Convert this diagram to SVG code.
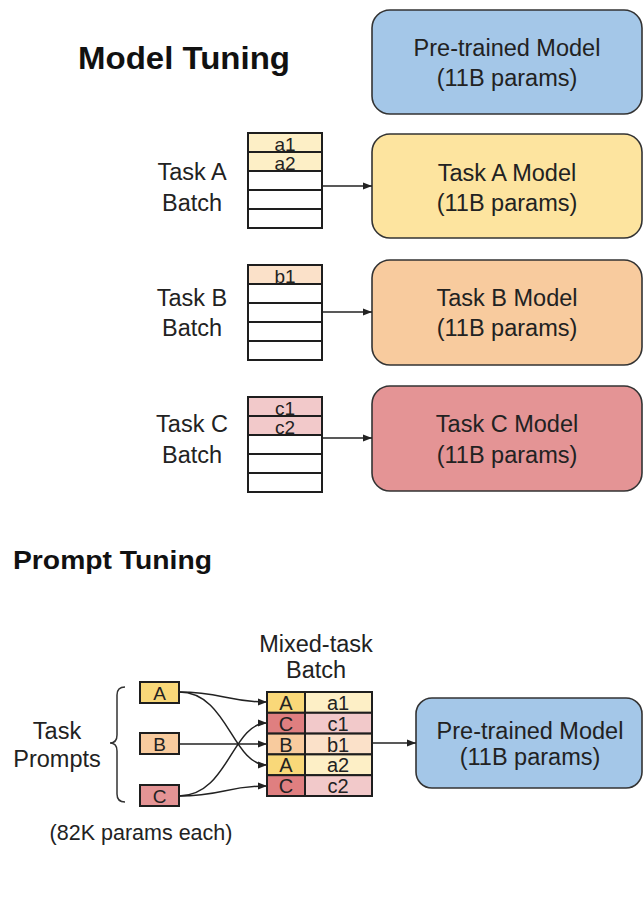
<svg xmlns="http://www.w3.org/2000/svg" width="644" height="898" viewBox="0 0 644 898">
  <defs>
    <marker id="arrow" viewBox="0 0 10 10" refX="10" refY="5" markerWidth="9" markerHeight="9" markerUnits="userSpaceOnUse" orient="auto">
      <path d="M0,1 L10,5 L0,9 z" fill="#222"/>
    </marker>
  </defs>
  <style>
    text { font-family: "Liberation Sans", Arial, sans-serif; fill: #222; }
    .title { font-weight: bold; fill: #111; }
    .model { stroke: #333; stroke-width: 1.6; }
    .lbl { font-size: 23.5px; text-anchor: middle; }
    .mlbl { font-size: 23.5px; text-anchor: middle; }
    .cell { stroke: #1e1e1e; stroke-width: 2; }
    .ctext { font-size: 19px; text-anchor: middle; }
    .wire { fill: none; stroke: #222; stroke-width: 1.5; marker-end: url(#arrow); }
    .blue { fill: #a4c7e8; }
    .ya { fill: #fde49f; }
    .ob { fill: #f8cb9e; }
    .rc { fill: #e49495; }
    .ya2 { fill: #fdefc6; }
    .ob2 { fill: #fbe1c9; }
    .rc2 { fill: #f2c9ca; }
    .ya1 { fill: #f9d879; }
    .rc1 { fill: #df7f80; }
    .none { fill: #fff; }
  </style>

  <rect width="644" height="898" fill="#fff"/>

  <!-- Model tuning section -->
  <text class="title" x="78" y="69" font-size="32" textLength="212" lengthAdjust="spacingAndGlyphs">Model Tuning</text>

  <g id="pretrained-top">
    <rect class="model blue" x="372" y="10" width="270" height="104" rx="18"/>
    <text class="mlbl" x="507" y="56">Pre-trained Model</text>
    <text class="mlbl" x="507" y="86">(11B params)</text>
  </g>

  <g id="model-a">
    <rect class="model ya" x="372" y="134" width="270" height="104" rx="18"/>
    <text class="mlbl" x="507" y="181">Task A Model</text>
    <text class="mlbl" x="507" y="211">(11B params)</text>
  </g>

  <g id="model-b">
    <rect class="model ob" x="372" y="260" width="270" height="105" rx="18"/>
    <text class="mlbl" x="507" y="306">Task B Model</text>
    <text class="mlbl" x="507" y="336">(11B params)</text>
  </g>

  <g id="model-c">
    <rect class="model rc" x="372" y="386" width="270" height="105" rx="18"/>
    <text class="mlbl" x="507" y="432">Task C Model</text>
    <text class="mlbl" x="507" y="463">(11B params)</text>
  </g>

  <g id="batch-a">
    <text class="lbl" x="192" y="180">Task A</text>
    <text class="lbl" x="192" y="211">Batch</text>
    <rect class="cell ya2" x="248" y="133" width="74" height="19"/>
    <rect class="cell ya2" x="248" y="152" width="74" height="19"/>
    <rect class="cell none" x="248" y="171" width="74" height="19"/>
    <rect class="cell none" x="248" y="190" width="74" height="19"/>
    <rect class="cell none" x="248" y="209" width="74" height="19"/>
    <text class="ctext" x="285" y="151">a1</text>
    <text class="ctext" x="285" y="170">a2</text>
  </g>

  <g id="batch-b">
    <text class="lbl" x="192" y="306">Task B</text>
    <text class="lbl" x="192" y="336">Batch</text>
    <rect class="cell ob2" x="248" y="265" width="74" height="19"/>
    <rect class="cell none" x="248" y="284" width="74" height="19"/>
    <rect class="cell none" x="248" y="303" width="74" height="19"/>
    <rect class="cell none" x="248" y="322" width="74" height="19"/>
    <rect class="cell none" x="248" y="341" width="74" height="19"/>
    <text class="ctext" x="285" y="283">b1</text>
  </g>

  <g id="batch-c">
    <text class="lbl" x="192" y="432">Task C</text>
    <text class="lbl" x="192" y="463">Batch</text>
    <rect class="cell rc2" x="248" y="397" width="74" height="19"/>
    <rect class="cell rc2" x="248" y="416" width="74" height="19"/>
    <rect class="cell none" x="248" y="435" width="74" height="19"/>
    <rect class="cell none" x="248" y="454" width="74" height="19"/>
    <rect class="cell none" x="248" y="473" width="74" height="19"/>
    <text class="ctext" x="285" y="415">c1</text>
    <text class="ctext" x="285" y="434">c2</text>
  </g>

  <!-- Prompt tuning section -->
  <text class="title" x="13" y="569" font-size="26" textLength="199" lengthAdjust="spacingAndGlyphs">Prompt Tuning</text>

  <g id="task-prompts">
    <text class="lbl" x="57" y="739" font-size="23">Task</text>
    <text class="lbl" x="57" y="767" font-size="23">Prompts</text>
    <path d="M125,687 q-8,0 -8,8 v40 q0,8 -7,8 q7,0 7,8 v43 q0,8 8,8" fill="none" stroke="#333" stroke-width="1.5"/>
    <text x="141" y="840" font-size="21.5" text-anchor="middle">(82K params each)</text>
  </g>

  <g id="prompt-a">
    <rect class="cell ya1" x="140" y="682" width="39" height="21"/>
    <text class="ctext" x="159.5" y="700" font-size="20">A</text>
  </g>
  <g id="prompt-b">
    <rect class="cell ob" x="140" y="733" width="39" height="21"/>
    <text class="ctext" x="159.5" y="751" font-size="20">B</text>
  </g>
  <g id="prompt-c">
    <rect class="cell rc" x="140" y="785" width="39" height="21"/>
    <text class="ctext" x="159.5" y="803" font-size="20">C</text>
  </g>

  <g id="mixed-batch">
    <text class="lbl" x="316" y="652" font-size="23">Mixed-task</text>
    <text class="lbl" x="316" y="678" font-size="23">Batch</text>
    <rect class="cell ya1" x="267" y="692" width="38" height="20.8"/>
    <rect class="cell ya2" x="305" y="692" width="67" height="20.8"/>
    <rect class="cell rc1" x="267" y="712.8" width="38" height="20.8"/>
    <rect class="cell rc2" x="305" y="712.8" width="67" height="20.8"/>
    <rect class="cell ob" x="267" y="733.6" width="38" height="20.8"/>
    <rect class="cell ob2" x="305" y="733.6" width="67" height="20.8"/>
    <rect class="cell ya1" x="267" y="754.4" width="38" height="20.8"/>
    <rect class="cell ya2" x="305" y="754.4" width="67" height="20.8"/>
    <rect class="cell rc1" x="267" y="775.2" width="38" height="20.8"/>
    <rect class="cell rc2" x="305" y="775.2" width="67" height="20.8"/>
    <g font-size="20" text-anchor="middle">
      <text x="286" y="710">A</text>
      <text x="286" y="731">C</text>
      <text x="286" y="752">B</text>
      <text x="286" y="772">A</text>
      <text x="286" y="793">C</text>
      <text x="338" y="710">a1</text>
      <text x="338" y="731">c1</text>
      <text x="338" y="752">b1</text>
      <text x="338" y="772">a2</text>
      <text x="338" y="793">c2</text>
    </g>
  </g>

  <g id="pretrained-bottom">
    <rect class="model blue" x="416" y="698" width="226" height="90" rx="16"/>
    <text class="mlbl" x="530" y="739" font-size="20">Pre-trained Model</text>
    <text class="mlbl" x="530" y="765" font-size="20">(11B params)</text>
  </g>

  <g id="connectors">
    <line class="wire" x1="322" y1="186" x2="372" y2="186"/>
    <line class="wire" x1="322" y1="312" x2="372" y2="312"/>
    <line class="wire" x1="322" y1="438" x2="372" y2="438"/>
    <path class="wire" d="M179,692 C222,692 226,702 267,702"/>
    <path class="wire" d="M179,692 C228,692 232,765 267,765"/>
    <path class="wire" d="M179,744 L267,744"/>
    <path class="wire" d="M179,796 C228,796 232,723 267,723"/>
    <path class="wire" d="M179,796 C222,796 226,786 267,786"/>
    <line class="wire" x1="372" y1="743" x2="416" y2="743"/>
  </g>
</svg>
